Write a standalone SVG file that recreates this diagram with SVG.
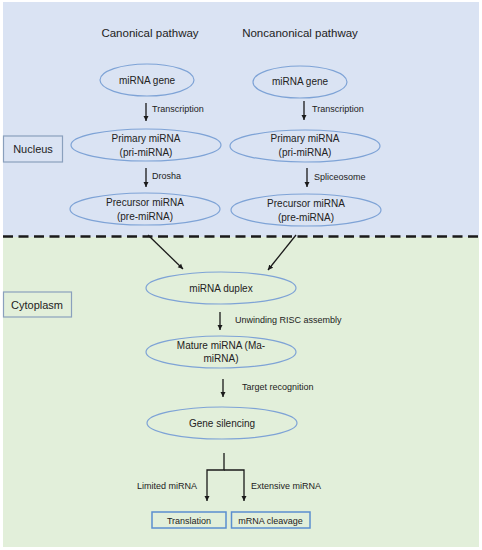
<svg xmlns="http://www.w3.org/2000/svg" width="482" height="550" viewBox="0 0 482 550">
<defs>
<style>
text{font-family:"Liberation Sans",Arial,sans-serif;fill:#222222}
.t{font-size:10px;text-anchor:middle}
.h{font-size:11.5px;text-anchor:middle}
.l{font-size:9px}
.el{fill:none;stroke:#7ea3d6;stroke-width:1.2}
.bx{fill:none;stroke:#5b8fcf;stroke-width:1.5}
.rg{fill:none;stroke:#8aa0bd;stroke-width:1.2}
.c{stroke:#1a1a1a;stroke-width:1.3;fill:none}
</style>
<marker id="ah" markerWidth="6" markerHeight="6" refX="5" refY="3" orient="auto" markerUnits="userSpaceOnUse">
<path d="M0,0.5 L5,3 L0,5.5 z" fill="#1a1a1a"/>
</marker>
</defs>
<rect x="0" y="0" width="482" height="550" fill="#ffffff"/>
<rect x="3" y="2" width="476" height="235" fill="#dae3f3"/>
<rect x="3" y="237" width="476" height="310" fill="#e2efda"/>
<line x1="3" y1="236.5" x2="480" y2="236.5" stroke="#1a1a1a" stroke-width="2.5" stroke-dasharray="10,5.5"/>

<g id="canonical-title"><text class="h" x="150" y="37">Canonical pathway</text></g>
<g id="noncanonical-title"><text class="h" x="300" y="37">Noncanonical pathway</text></g>

<g id="nucleus"><rect class="rg" x="3.5" y="136" width="59" height="26"/><text x="33" y="153" style="font-size:11px;text-anchor:middle">Nucleus</text></g>
<g id="cytoplasm"><rect class="rg" x="3.5" y="292" width="68" height="25"/><text x="37" y="309" style="font-size:11px;text-anchor:middle">Cytoplasm</text></g>

<g id="gene-left"><ellipse class="el" cx="147" cy="80" rx="47" ry="16"/><text class="t" x="147" y="84">miRNA gene</text></g>
<g id="gene-right"><ellipse class="el" cx="300" cy="82" rx="47" ry="16"/><text class="t" x="300" y="85">miRNA gene</text></g>
<g id="pri-left"><ellipse class="el" cx="146" cy="145" rx="75" ry="16"/><text class="t" x="146" y="142">Primary miRNA</text><text class="t" x="146" y="156">(pri-miRNA)</text></g>
<g id="pri-right"><ellipse class="el" cx="305" cy="146" rx="75" ry="16"/><text class="t" x="305" y="142">Primary miRNA</text><text class="t" x="305" y="156">(pri-miRNA)</text></g>
<g id="pre-left"><ellipse class="el" cx="145" cy="209" rx="75" ry="16"/><text class="t" x="145" y="206">Precursor miRNA</text><text class="t" x="145" y="220">(pre-miRNA)</text></g>
<g id="pre-right"><ellipse class="el" cx="306" cy="210" rx="75" ry="16"/><text class="t" x="306" y="207">Precursor miRNA</text><text class="t" x="306" y="221">(pre-miRNA)</text></g>
<g id="duplex"><ellipse class="el" cx="221" cy="288" rx="75" ry="16"/><text class="t" x="221" y="292">miRNA duplex</text></g>
<g id="mature"><ellipse class="el" cx="221" cy="352" rx="75" ry="16"/><text class="t" x="221" y="349">Mature miRNA (Ma-</text><text class="t" x="221" y="362">miRNA)</text></g>
<g id="silencing"><ellipse class="el" cx="222" cy="423" rx="75" ry="16"/><text class="t" x="222" y="427">Gene silencing</text></g>
<g id="translation"><rect class="bx" x="152" y="512" width="74" height="16"/><text class="l" x="189" y="523.5" text-anchor="middle">Translation</text></g>
<g id="cleavage"><rect class="bx" x="231.5" y="512" width="78.5" height="16"/><text class="l" x="270.5" y="523.5" text-anchor="middle">mRNA cleavage</text></g>

<g id="connectors">
<line class="c" x1="146" y1="103" x2="146" y2="121" marker-end="url(#ah)"/>
<line class="c" x1="304" y1="101" x2="304" y2="120" marker-end="url(#ah)"/>
<line class="c" x1="146" y1="168" x2="146" y2="187" marker-end="url(#ah)"/>
<line class="c" x1="307" y1="168" x2="307" y2="187" marker-end="url(#ah)"/>
<line class="c" x1="148" y1="235" x2="183" y2="269" marker-end="url(#ah)"/>
<line class="c" x1="296" y1="235" x2="268" y2="270" marker-end="url(#ah)"/>
<line class="c" x1="220" y1="312" x2="220" y2="330" marker-end="url(#ah)"/>
<line class="c" x1="223" y1="379" x2="223" y2="397" marker-end="url(#ah)"/>
<path class="c" d="M224,453 V470 H207 V501" marker-end="url(#ah)"/>
<path class="c" d="M224,470 H244 V501" marker-end="url(#ah)"/>
<text class="l" x="152" y="112">Transcription</text>
<text class="l" x="312" y="112">Transcription</text>
<text class="l" x="152" y="179">Drosha</text>
<text class="l" x="314" y="180">Spliceosome</text>
<text class="l" x="235" y="323">Unwinding RISC assembly</text>
<text class="l" x="242" y="390">Target recognition</text>
<text class="l" x="197" y="489" text-anchor="end">Limited miRNA</text>
<text class="l" x="251" y="489">Extensive miRNA</text>
</g>
</svg>
